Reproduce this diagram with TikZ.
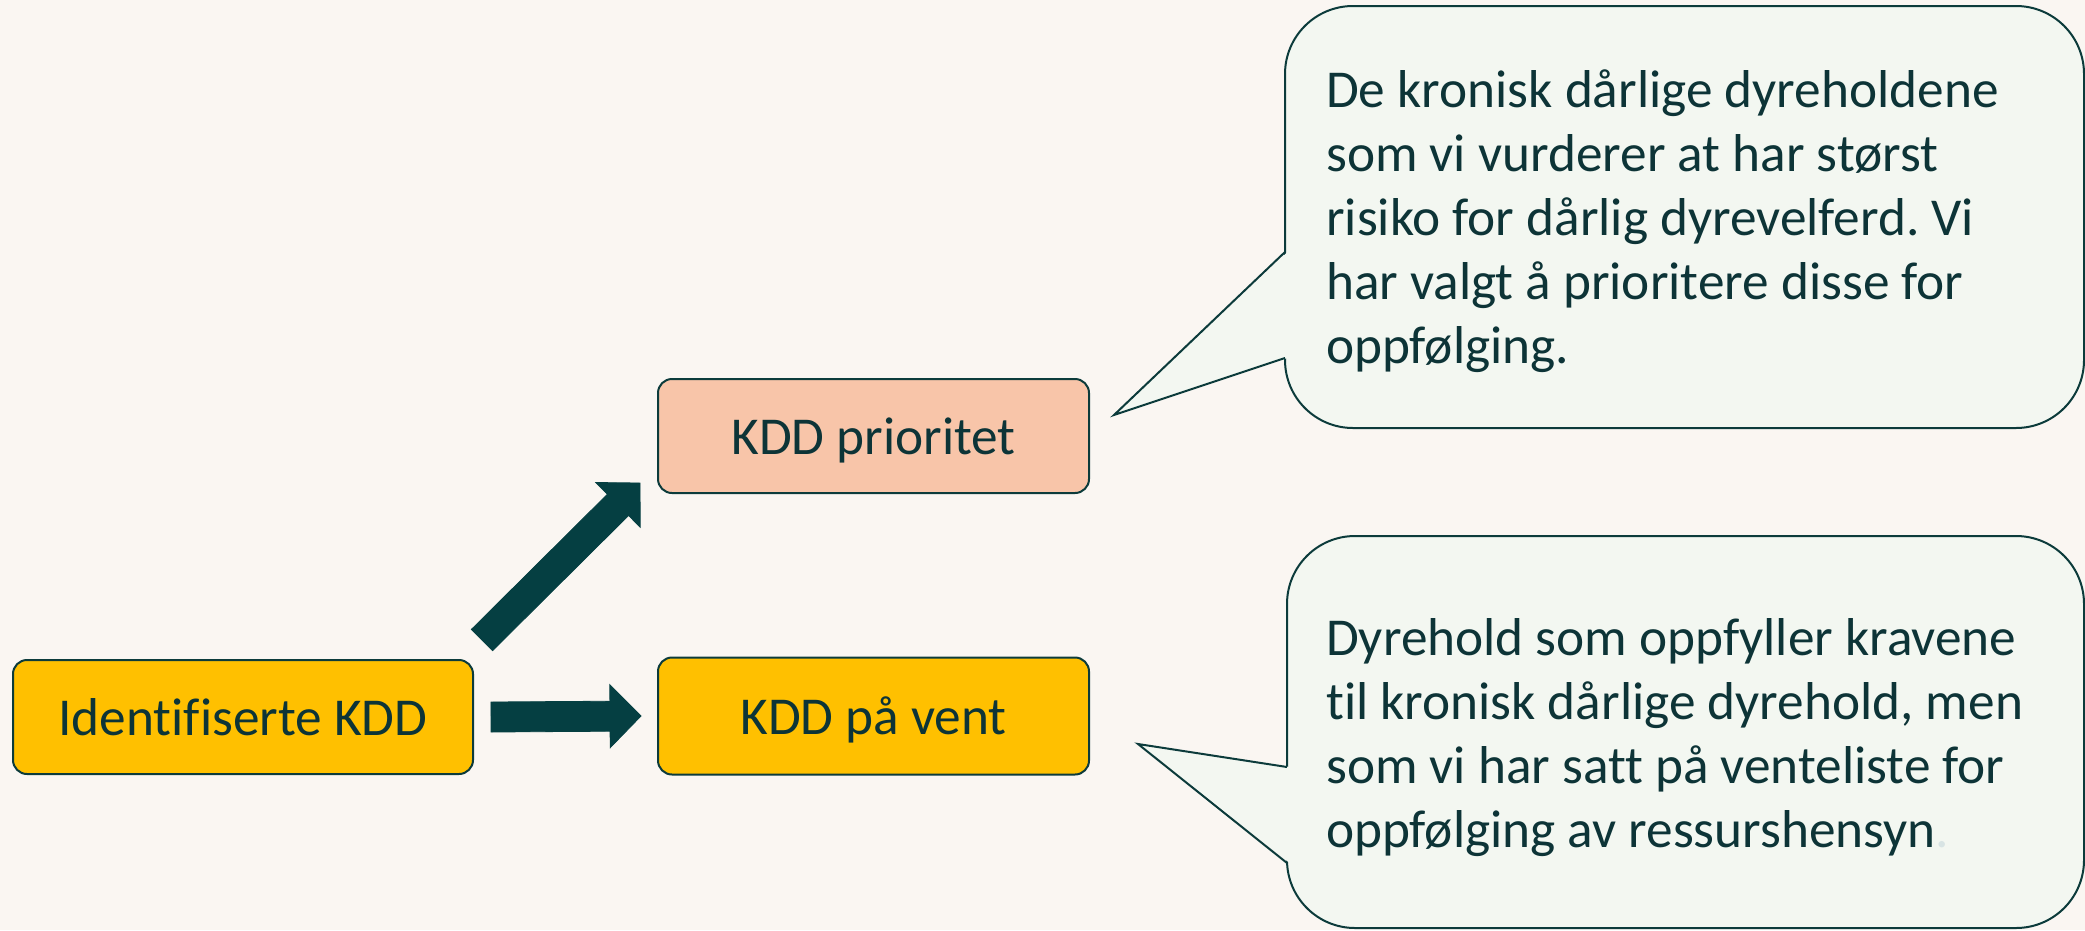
\documentclass[tikz,border=0pt]{standalone}
\usepackage{fontspec}
\setmainfont{Carlito}[Ligatures=NoCommon]
\usetikzlibrary{calc}
\frenchspacing
\definecolor{bgcol}{HTML}{FAF6F2}
\definecolor{callfill}{HTML}{F3F7F1}
\definecolor{linecol}{HTML}{0C3B3B}
\definecolor{textcol}{HTML}{0D3437}
\definecolor{kyellow}{HTML}{FFC000}
\definecolor{ksalmon}{HTML}{F8C5A9}
\definecolor{arrowcol}{HTML}{053F42}
\definecolor{palecol}{HTML}{D8E4E4}
\newcommand\fatarrow[2]{%
  \coordinate (fa@h) at ($(#2)!31pt!(#1)$);
  \fill[arrowcol, draw=arrowcol, line width=0.8pt, line join=miter]
    ($(#1)!15pt!90:(#2)$) -- ($(fa@h)!15pt!90:(#2)$) -- ($(fa@h)!31.5pt!90:(#2)$)
    -- (#2) -- ($(fa@h)!31.5pt!-90:(#2)$) -- ($(fa@h)!15pt!-90:(#2)$)
    -- ($(#1)!15pt!-90:(#2)$) -- cycle;}
\begin{document}
\begin{tikzpicture}[x=1pt,y=-1pt,
  kbox/.style={draw=linecol, line width=2pt, rounded corners=14pt, text=textcol,
    font=\fontsize{53.3}{64}\selectfont, inner sep=0pt, text depth=0pt},
  ctext/.style={align=left, text=textcol, font=\fontsize{53.3}{64}\selectfont, inner sep=0pt},
  callout/.style={draw=linecol, fill=callfill, line width=2pt},
  pointer/.style={draw=linecol, line width=2pt, line join=miter}]
\useasboundingbox (0,0) rectangle (2085,930);
\fill[bgcol] (0,0) rectangle (2085,930);

% boxes
\node[kbox, fill=kyellow, minimum width=460pt, minimum height=114pt] (id) at (243,717) {Identifiserte KDD};
\node[kbox, fill=ksalmon, minimum width=431pt, minimum height=114pt] (prio) at (873.5,436) {KDD prioritet};
\node[kbox, fill=kyellow, minimum width=431pt, minimum height=117pt] (vent) at (873.5,716) {KDD på vent};

% arrows
\coordinate (d1) at ($(id.north east)+(8,-19)$);
\coordinate (d2) at ($(prio.south west)+(-17,-11)$);
\coordinate (h1) at ($(id.east)+(17,0)$);
\coordinate (h2) at ($(vent.west)+(-16,0)$);
\fatarrow{d1}{d2}
\fatarrow{h1}{h2}

% callout 1
\draw[callout, rounded corners=68pt] (1285,6) rectangle (2084,428);
\fill[callfill] (1287.5,252) -- (1114,415) -- (1287.5,358) -- cycle;
\draw[pointer] (1285,252) -- (1114,415) -- (1285,358);
\node[ctext, anchor=base west] (t1) at (1326,363) {De kronisk dårlige dyreholdene\\som vi vurderer at har størst\\risiko for dårlig dyrevelferd. Vi\\har valgt å prioritere disse for\\oppfølging.};

% callout 2
\draw[callout, rounded corners=68pt] (1287,536) rectangle (2084,928);
\fill[callfill] (1289.5,767) -- (1138,744) -- (1289.5,863) -- cycle;
\draw[pointer] (1287,767) -- (1138,744) -- (1287,863);
\node[ctext, anchor=base west] (t2) at (1326,847) {Dyrehold som oppfyller kravene\\til kronisk dårlige dyrehold, men\\som vi har satt på venteliste for\\oppfølging av ressurshensyn{\color{palecol}.}};
\end{tikzpicture}
\end{document}
